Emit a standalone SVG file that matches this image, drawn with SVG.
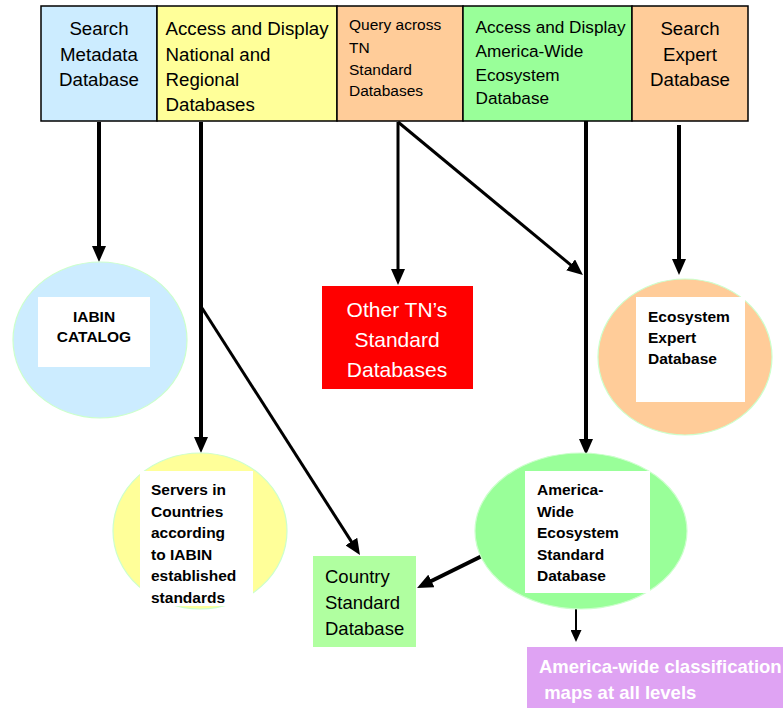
<svg xmlns="http://www.w3.org/2000/svg" width="783" height="708" viewBox="0 0 783 708">
<style>
.t{font-family:"Liberation Sans",Arial,sans-serif;fill:#000}
.big{font-size:18.7px}
.q{font-size:15.5px}
.g{font-size:17.2px}
.b{font-size:15.5px;font-weight:bold}
.hdr{stroke:#000;stroke-width:1.5}
.ell{stroke:#CCFFCC;stroke-width:1.2}
.wb{fill:#fff}
.c{stroke:#000;fill:none;stroke-linecap:butt}
</style>
<defs>
<marker id="ah" markerUnits="userSpaceOnUse" markerWidth="16" markerHeight="14" refX="4" refY="7" orient="auto">
<path d="M0,0 L16,7 L0,14 z" fill="#000"/>
</marker>
<marker id="ahs" markerUnits="userSpaceOnUse" markerWidth="12" markerHeight="11" refX="3" refY="5.5" orient="auto">
<path d="M0,0 L12,5.5 L0,11 z" fill="#000"/>
</marker>
</defs>
<rect width="783" height="708" fill="#fff"/>

<g id="connectors">
<line class="c" x1="99" y1="122" x2="99" y2="250" stroke-width="4" marker-end="url(#ah)"/>
<line class="c" x1="201" y1="122" x2="201" y2="441" stroke-width="4" marker-end="url(#ah)"/>
<line class="c" x1="202" y1="308" x2="353.5" y2="544.9" stroke-width="3" marker-end="url(#ah)"/>
<line class="c" x1="398" y1="122" x2="398" y2="273" stroke-width="3" marker-end="url(#ah)"/>
<line class="c" x1="398" y1="122" x2="573.7" y2="267.4" stroke-width="3" marker-end="url(#ah)"/>
<line class="c" x1="586" y1="121" x2="586" y2="443" stroke-width="4" marker-end="url(#ah)"/>
<line class="c" x1="679" y1="125" x2="679" y2="263" stroke-width="4" marker-end="url(#ah)"/>
<line class="c" x1="482" y1="556" x2="427.8" y2="582.7" stroke-width="4" marker-end="url(#ah)"/>
<line class="c" x1="576" y1="609" x2="576" y2="633" stroke-width="2" marker-end="url(#ahs)"/>
</g>

<g id="search-metadata">
<rect class="hdr" x="41" y="6" width="116" height="115" fill="#CCECFF"/>
<text class="t big" text-anchor="middle"><tspan x="99" y="35">Search</tspan><tspan x="99" y="60.5">Metadata</tspan><tspan x="99" y="85.5">Database</tspan></text>
</g>
<g id="access-national">
<rect class="hdr" x="157" y="6" width="180" height="115" fill="#FFFF99"/>
<text class="t big"><tspan x="165.5" y="35">Access and Display</tspan><tspan x="165.5" y="60.5">National and</tspan><tspan x="165.5" y="85.5">Regional</tspan><tspan x="165.5" y="111">Databases</tspan></text>
</g>
<g id="query-tn">
<rect class="hdr" x="337" y="6" width="126" height="115" fill="#FFCC99"/>
<text class="t q"><tspan x="349" y="30">Query across</tspan><tspan x="349" y="52.5">TN</tspan><tspan x="349" y="75">Standard</tspan><tspan x="349" y="96">Databases</tspan></text>
</g>
<g id="access-america">
<rect class="hdr" x="463" y="6" width="169" height="115" fill="#99FF99"/>
<text class="t g"><tspan x="475.5" y="33">Access and Display</tspan><tspan x="475.5" y="56.7">America-Wide</tspan><tspan x="475.5" y="80.5">Ecosystem</tspan><tspan x="475.5" y="104">Database</tspan></text>
</g>
<g id="search-expert">
<rect class="hdr" x="632" y="6" width="116" height="115" fill="#FFCC99"/>
<text class="t big" text-anchor="middle"><tspan x="690" y="35">Search</tspan><tspan x="690" y="60.5">Expert</tspan><tspan x="690" y="85.5">Database</tspan></text>
</g>

<g id="iabin-catalog">
<ellipse class="ell" cx="100" cy="340" rx="87" ry="78" fill="#CCECFF"/>
<rect class="wb" x="38" y="297" width="112" height="70"/>
<text class="t b" text-anchor="middle"><tspan x="94" y="322">IABIN</tspan><tspan x="94" y="342">CATALOG</tspan></text>
</g>

<g id="other-tn">
<rect x="322" y="286" width="151" height="103" fill="#FF0000"/>
<text class="t" style="fill:#fff;font-size:21px" text-anchor="middle"><tspan x="397" y="316.5">Other TN’s</tspan><tspan x="397" y="346.5">Standard</tspan><tspan x="397" y="376.5">Databases</tspan></text>
</g>

<g id="ecosystem-expert">
<ellipse class="ell" cx="685" cy="357" rx="87" ry="78" fill="#FFCC99"/>
<rect class="wb" x="636" y="297" width="109" height="105"/>
<text class="t b"><tspan x="648" y="322">Ecosystem</tspan><tspan x="648" y="343">Expert</tspan><tspan x="648" y="364">Database</tspan></text>
</g>

<g id="servers">
<ellipse class="ell" cx="200" cy="531" rx="87" ry="78" fill="#FFFF99"/>
<rect class="wb" x="140" y="471" width="113" height="135"/>
<text class="t b"><tspan x="151" y="495">Servers in</tspan><tspan x="151" y="516.5">Countries</tspan><tspan x="151" y="538">according</tspan><tspan x="151" y="559.5">to IABIN</tspan><tspan x="151" y="581">established</tspan><tspan x="151" y="602.5">standards</tspan></text>
</g>

<g id="country-db">
<rect x="313" y="556" width="103" height="91" fill="#B0FFA0"/>
<text class="t" style="font-size:18.5px"><tspan x="325" y="583">Country</tspan><tspan x="325" y="609">Standard</tspan><tspan x="325" y="635">Database</tspan></text>
</g>

<g id="america-db">
<ellipse class="ell" cx="581" cy="531" rx="106" ry="78" fill="#99FF99"/>
<rect class="wb" x="525" y="471" width="125" height="122"/>
<text class="t b"><tspan x="537" y="495">America-</tspan><tspan x="537" y="516.5">Wide</tspan><tspan x="537" y="538">Ecosystem</tspan><tspan x="537" y="559.5">Standard</tspan><tspan x="537" y="581">Database</tspan></text>
</g>

<g id="classification-maps">
<rect x="527" y="647" width="256" height="61" fill="#DFA3F3"/>
<text class="t" style="fill:#fff;font-size:18.5px;font-weight:bold"><tspan x="539" y="673">America-wide classification</tspan><tspan x="539" y="699"> maps at all levels</tspan></text>
</g>
</svg>
